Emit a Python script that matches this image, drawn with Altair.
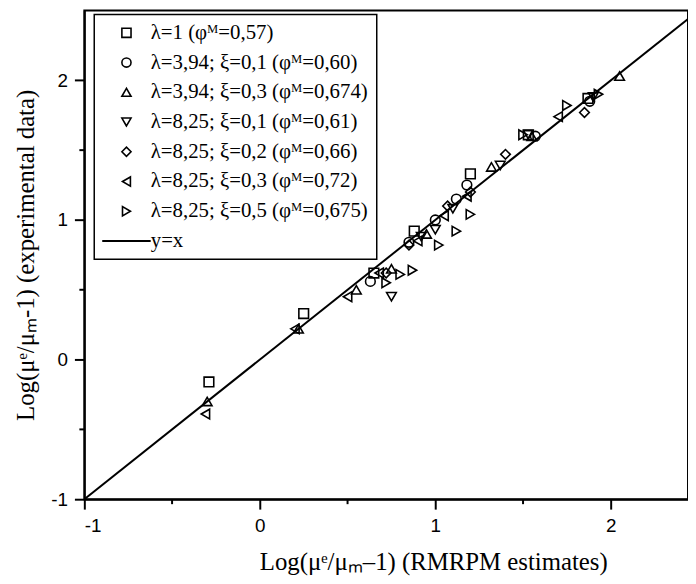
import altair as alt
import pandas as pd

# ---- data ----
series_labels = [
    "λ=1  (φᴹ=0,57)",
    "λ=3,94; ξ=0,1 (φᴹ=0,60)",
    "λ=3,94; ξ=0,3 (φᴹ=0,674)",
    "λ=8,25; ξ=0,1 (φᴹ=0,61)",
    "λ=8,25; ξ=0,2 (φᴹ=0,66)",
    "λ=8,25; ξ=0,3 (φᴹ=0,72)",
    "λ=8,25; ξ=0,5 (φᴹ=0,675)",
]
line_label = "y=x"

s1_x = [-0.29, 0.25, 0.65, 0.88, 1.20, 1.53, 1.87]
s1_y = [-0.16, 0.33, 0.62, 0.92, 1.33, 1.61, 1.87]

s2_x = [0.63, 0.85, 1.00, 1.12, 1.18, 1.57, 1.88]
s2_y = [0.56, 0.84, 1.00, 1.15, 1.25, 1.60, 1.85]

s3_x = [-0.30, 0.22, 0.55, 0.75, 0.95, 1.32, 1.55, 2.05]
s3_y = [-0.30, 0.22, 0.50, 0.65, 0.90, 1.38, 1.60, 2.03]

s4_x = [0.75, 0.92, 1.00, 1.10, 1.37, 1.53, 1.90]
s4_y = [0.45, 0.88, 0.93, 1.08, 1.39, 1.61, 1.88]

s5_x = [0.72, 0.85, 1.07, 1.20, 1.40, 1.85]
s5_y = [0.62, 0.82, 1.10, 1.20, 1.47, 1.77]

s6_x = [-0.31, 0.20, 0.50, 0.68, 0.90, 1.05, 1.18, 1.70]
s6_y = [-0.39, 0.22, 0.45, 0.62, 0.85, 1.03, 1.17, 1.74]

s7_x = [0.72, 0.80, 0.87, 1.02, 1.12, 1.20, 1.50, 1.75, 1.93]
s7_y = [0.55, 0.61, 0.64, 0.82, 0.92, 1.04, 1.61, 1.82, 1.90]

shapes = ["square", "circle", "triangle-up", "triangle-down", "diamond",
          "triangle-left", "triangle-right", "M-5.3,0L5.3,0"]
stroke_widths = [1.6] * 7 + [2.2]

x_ticks = [-1, 0, 1, 2]
y_ticks = [-1, 0, 1, 2]
minor_x = [-0.5, 0.5, 1.5]
minor_y = [-0.5, 0.5, 1.5]
x_domain = [-1, 2.44]
y_domain = [-1, 2.5]
line_ends = [-1, 2.5]

# ---- build tables ----
rows = []
for lab, xs, ys in zip(series_labels,
                       [s1_x, s2_x, s3_x, s4_x, s5_x, s6_x, s7_x],
                       [s1_y, s2_y, s3_y, s4_y, s5_y, s6_y, s7_y]):
    for a, b in zip(xs, ys):
        rows.append({"x": a, "y": b, "series": lab})
pts = pd.DataFrame(rows)
line_df = pd.DataFrame({"x": line_ends, "y": line_ends})
mx_df = pd.DataFrame({"v": minor_x})
my_df = pd.DataFrame({"v": minor_y})

W, H = 609, 493

xscale = alt.Scale(domain=x_domain, nice=False, zero=False)
yscale = alt.Scale(domain=y_domain, nice=False, zero=False)

xaxis = alt.Axis(values=x_ticks, labelExpr="'' + datum.value",
                 title="Log(μᵉ/μₘ–1) (RMRPM estimates)",
                 titlePadding=14, labelPadding=8, titleX=352, titleAlign="center")
yaxis = alt.Axis(values=y_ticks, labelExpr="'' + datum.value",
                 title="Log(μᵉ/μₘ-1) (experimental data)",
                 titlePadding=12, labelPadding=7)

all_labels = series_labels + [line_label]
legend_opts = dict(title=None, orient="none", legendX=10, legendY=4,
                   labelFont="Liberation Serif", labelFontSize=21,
                   labelColor="black", strokeColor="black",
                   fillColor="white", padding=8, rowPadding=8,
                   symbolSize=85, symbolStrokeColor="black",
                   symbolFillColor="transparent",
                   symbolOffset=14, labelOffset=14, labelLimit=400)

points = alt.Chart(pts).mark_point(filled=False, stroke="black",
                                   size=95, opacity=1).encode(
    x=alt.X("x:Q", scale=xscale, axis=xaxis),
    y=alt.Y("y:Q", scale=yscale, axis=yaxis),
    shape=alt.Shape("series:N",
                    scale=alt.Scale(domain=all_labels, range=shapes),
                    legend=alt.Legend(**legend_opts)),
    strokeWidth=alt.StrokeWidth("series:N",
                                scale=alt.Scale(type="ordinal", domain=all_labels,
                                                range=stroke_widths),
                                legend=alt.Legend(**legend_opts)),
)

line = alt.Chart(line_df).mark_line(color="black", strokeWidth=2, clip=True).encode(
    x=alt.X("x:Q", scale=xscale),
    y=alt.Y("y:Q", scale=yscale),
)

minor_xt = alt.Chart(mx_df).mark_rule(color="black", strokeWidth=2).encode(
    x=alt.X("v:Q", scale=xscale),
    y=alt.value(H), y2=alt.value(H + 5),
)
minor_yt = alt.Chart(my_df).mark_rule(color="black", strokeWidth=2).encode(
    y=alt.Y("v:Q", scale=yscale),
    x=alt.value(0), x2=alt.value(-5),
)

chart = alt.layer(line, points, minor_xt, minor_yt).properties(
    width=W, height=H,
    autosize=alt.AutoSizeParams(type="none"),
    padding={"left": 77, "top": 0, "right": 0, "bottom": 83},
).configure_view(stroke="black", strokeWidth=2).configure_axis(
    grid=False, domainColor="black", domainWidth=2, tickColor="black", tickWidth=2,
    tickSize=10, labelFont="Liberation Sans", labelFontSize=19, labelColor="black",
    titleFont="Liberation Serif", titleFontSize=25, titleColor="black",
    titleFontWeight="normal",
).configure_legend(strokeWidth=1.5)

chart.save("out.html", embed_options={"renderer": "svg", "actions": False})
